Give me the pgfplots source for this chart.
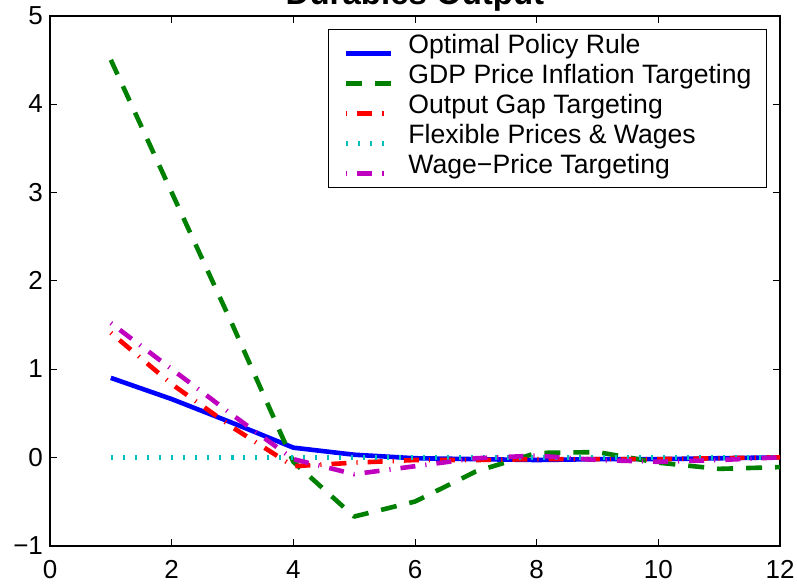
\documentclass[border=0pt]{standalone}
\usepackage{fontspec}
\setmainfont{Liberation Sans}
\usepackage{pgfplots}
\pgfplotsset{compat=1.18}

\definecolor{mblue}{rgb}{0,0,1}
\definecolor{mgreen}{rgb}{0,0.5,0}
\definecolor{mred}{rgb}{1,0,0}
\definecolor{mcyan}{rgb}{0,0.75,0.75}
\definecolor{mmagenta}{rgb}{0.75,0,0.75}

\begin{document}
\begin{tikzpicture}
\begin{axis}[
  at={(0pt,0pt)}, anchor=south west,
  scale only axis, width=365pt, height=265pt,
  xmin=0, xmax=12, ymin=-1, ymax=5,
  xtick={0,2,...,12}, ytick={-1,0,...,5},
  yticklabels={−1,0,1,2,3,4,5},
  tick align=inside, major tick length=3.5pt,
  axis line style={line width=0.8pt},
  tick style={line width=0.5pt, black},
  tick label style={font=\fontsize{13}{15}\selectfont},
  xticklabel style={yshift=-4pt},
  /pgf/number format/assume math mode=true,
  title={Durables Output},
  title style={anchor=base, yshift=-0.5pt, font=\fontsize{16.5}{18}\selectfont\bfseries},
  legend cell align=left,
  legend style={at={(1,1)}, anchor=north east, xshift=-6.5pt, yshift=-6.65pt,
    draw=black, line width=0.5pt, fill=white, inner xsep=7.5pt, inner ysep=2pt,
    font=\fontsize{13.3}{15}\selectfont,
    nodes={inner sep=0pt, text height=10pt, text depth=5pt, anchor=base west},
    /tikz/column 1/.style={column sep=7.5pt}, row sep=0pt},
  legend image code/.code={\draw[#1] (0pt,0pt) -- (22.5pt,0pt);},
  every axis plot/.append style={line width=2.3pt, line join=round},
]
% optimal policy rule
\addplot[mblue, solid] coordinates {
  (1,0.90) (2,0.66) (3,0.39) (4,0.11) (5,0.03) (6,-0.01)
  (7,-0.02) (8,-0.03) (9,-0.02) (10,-0.02) (11,-0.01) (12,0.00)};
\addlegendentry{Optimal Policy Rule}
% GDP price inflation targeting
\addplot[mgreen, dash pattern=on 8pt off 6.5pt] coordinates {
  (1,4.50) (2,3.00) (3,1.50) (4,-0.05) (5,-0.67) (6,-0.50)
  (7,-0.16) (8,0.05) (9,0.06) (10,-0.06) (11,-0.13) (12,-0.11)};
\addlegendentry{GDP Price Inflation Targeting}
% output gap targeting
\addplot[mred, dash pattern=on 0.6pt off 5pt on 7.5pt off 5pt] coordinates {
  (1,1.41) (2,0.83) (3,0.34) (4,-0.10) (5,-0.06) (6,-0.03)
  (7,-0.03) (8,-0.02) (9,-0.02) (10,-0.02) (11,-0.01) (12,0.00)};
\addlegendentry{Output Gap Targeting}
% flexible prices and wages
\addplot[mcyan, dash pattern=on 1pt off 5pt] coordinates {
  (1,0) (2,0) (3,0) (4,0) (5,0) (6,0)
  (7,0) (8,0) (9,0) (10,0) (11,0) (12,0)};
\addlegendentry{Flexible Prices \& Wages}
% wage-price targeting
\addplot[mmagenta, dash pattern=on 0.6pt off 5pt on 7.5pt off 5pt] coordinates {
  (1,1.52) (2,1.00) (3,0.48) (4,-0.02) (5,-0.19) (6,-0.10)
  (7,-0.01) (8,0.02) (9,-0.03) (10,-0.05) (11,-0.03) (12,0.00)};
\addlegendentry{Wage−Price Targeting}
\end{axis}
\pgfresetboundingbox
\useasboundingbox (-25pt,-19.65pt) rectangle (373.5pt,272.85pt);
\end{tikzpicture}
\end{document}
